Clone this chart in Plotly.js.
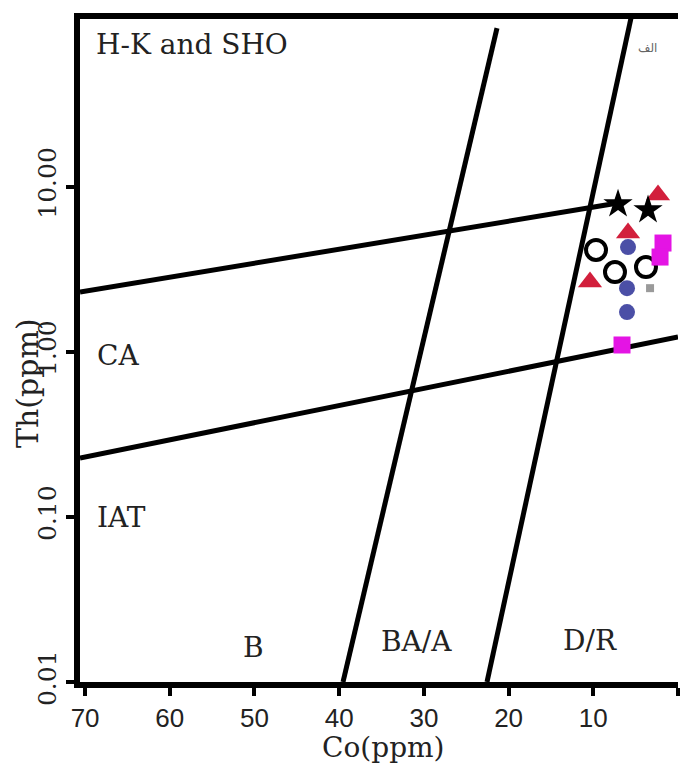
<!DOCTYPE html>
<html>
<head>
<meta charset="utf-8">
<script src="https://cdn.plot.ly/plotly-3.0.1.min.js"></script>
<style>html,body{margin:0;padding:0;background:#fff;}#chart{width:681px;height:782px;}</style>
</head>
<body>
<div id="chart"></div>
<script>
// Boundary lines of the Th–Co diagram (Co ppm, Th ppm)
var upperLineCo = [70.6, 7.44];
var upperLineTh = [2.30, 7.91];
var lowerLineCo = [70.6, 0];
var lowerLineTh = [0.2276, 1.229];
var leftLineCo = [39.55, 21.37];
var leftLineTh = [0.01, 91.4];
var rightLineCo = [22.55, 5.55];
var rightLineTh = [0.01, 105];

// Samples
var openCo = [9.68, 7.44, 3.78];
var openTh = [4.14, 3.04, 3.26];
var triCo = [2.36, 5.90, 10.39];
var triTh = [8.91, 5.24, 2.65];
var blueCo = [5.90, 6.02, 6.02];
var blueTh = [4.31, 2.43, 1.74];
var sqCo = [1.77, 2.12, 6.61];
var sqTh = [4.56, 3.75, 1.10];
var starCo = [7.08, 3.54];
var starTh = [7.85, 7.23];
var grayCo = [3.30];
var grayTh = [2.43];

var xTicks = [70, 60, 50, 40, 30, 20, 10, 0];
var yTicks = [0.01, 0.1, 1, 10];
var yTickText = ['0.01', '0.10', '1.00', '10.00'];

var serif = 'DejaVu Serif, Liberation Serif, serif';
function boundary(x, y) {
  return {x: x, y: y, mode: 'lines', line: {color: '#000', width: 5}, hoverinfo: 'skip', showlegend: false};
}
var traces = [
  boundary(upperLineCo, upperLineTh),
  boundary(lowerLineCo, lowerLineTh),
  boundary(leftLineCo, leftLineTh),
  boundary(rightLineCo, rightLineTh),
  {x: openCo, y: openTh, mode: 'markers', marker: {symbol: 'circle-open', size: 20, color: '#000', line: {width: 4, color: '#000'}}, showlegend: false},
  {x: triCo, y: triTh, mode: 'markers', marker: {symbol: 'triangle-up', size: 21, color: '#d21f3c'}, showlegend: false},
  {x: blueCo, y: blueTh, mode: 'markers', marker: {symbol: 'circle', size: 16, color: '#4b4fa6'}, showlegend: false},
  {x: sqCo, y: sqTh, mode: 'markers', marker: {symbol: 'square', size: 17, color: '#e414e4'}, showlegend: false},
  {x: starCo, y: starTh, mode: 'markers', marker: {symbol: 'star', size: 22, color: '#000'}, showlegend: false},
  {x: grayCo, y: grayTh, mode: 'markers', marker: {symbol: 'square', size: 8, color: '#9a9a9a'}, showlegend: false}
];

function lab(text, x, y, size, extra) {
  var a = {text: text, xref: 'paper', yref: 'paper', x: x, y: y, xanchor: 'center', yanchor: 'middle', showarrow: false,
    font: {family: serif, size: size, color: '#222'}};
  if (extra) for (var k in extra) a[k] = extra[k];
  return a;
}

var layout = {
  width: 681, height: 782,
  margin: {l: 80, r: 3, t: 19, b: 100, pad: 0},
  paper_bgcolor: '#fff', plot_bgcolor: '#fff',
  xaxis: {
    range: [70.6, 0], tickvals: xTicks, ticktext: xTicks.map(String),
    showline: true, linecolor: '#000', linewidth: 6, mirror: true,
    ticks: 'outside', ticklen: 8, tickwidth: 4, tickcolor: '#000',
    showgrid: false, zeroline: false,
    tickfont: {family: 'Liberation Sans Narrow, Liberation Sans, sans-serif', size: 26, color: '#222'}
  },
  yaxis: {
    type: 'log', range: [-2, 2.016], tickvals: yTicks, ticktext: yTickText, tickangle: -90,
    showline: true, linecolor: '#000', linewidth: 6, mirror: false,
    ticks: 'outside', ticklen: 8, tickwidth: 4, tickcolor: '#000',
    showgrid: false, zeroline: false,
    tickfont: {family: serif, size: 25, color: '#222'}
  },
  annotations: [
    lab('H-K and SHO', 0.1873, 0.9608, 28),
    lab('CA', 0.0635, 0.4932, 28),
    lab('IAT', 0.0702, 0.2474, 28),
    lab('B', 0.2893, 0.0513, 28),
    lab('BA/A', 0.5635, 0.0618, 28),
    lab('D/R', 0.8528, 0.0633, 28),
    lab('الف', 0.9498, 0.9563, 12, {font: {family: 'DejaVu Sans, sans-serif', size: 12, color: '#666'}}),
    lab('Th(ppm)', -0.087, 0.451, 30, {textangle: -90}),
    lab('Co(ppm)', 0.5067, -0.0995, 28)
  ]
};

Plotly.newPlot('chart', traces, layout, {displayModeBar: false, staticPlot: true});
</script>
</body>
</html>
